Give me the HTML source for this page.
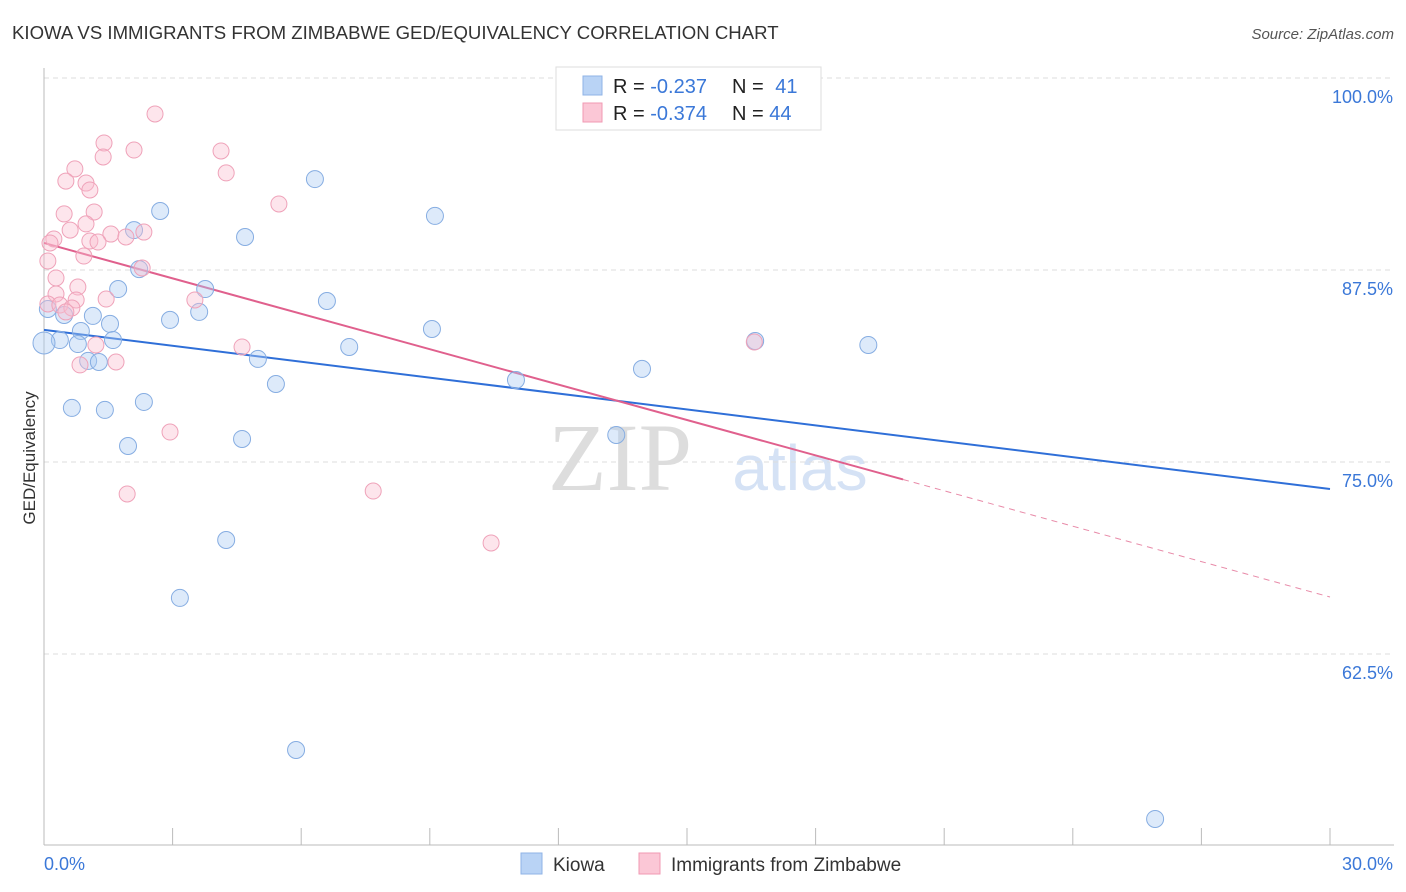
<!DOCTYPE html>
<html><head><meta charset="utf-8"><style>
body{margin:0;background:#fff;font-family:"Liberation Sans",sans-serif;}
svg{display:block}
</style></head><body>
<svg id="chart" width="1406" height="892" xmlns="http://www.w3.org/2000/svg">
<text x="12" y="39" font-size="18.6" fill="#333">KIOWA VS IMMIGRANTS FROM ZIMBABWE GED/EQUIVALENCY CORRELATION CHART</text>
<text x="1394" y="39" font-size="15" fill="#555" font-style="italic" text-anchor="end">Source: ZipAtlas.com</text>
<text x="35" y="458" font-size="17" fill="#333" text-anchor="middle" transform="rotate(-90 35 458)">GED/Equivalency</text>
<text x="620" y="490" font-size="96" fill="#ddd" font-family="Liberation Serif" text-anchor="middle">ZIP</text>
<text x="800" y="490" font-size="64" fill="#d5e2f5" text-anchor="middle">atlas</text>
<g id="grid"></g><g id="axes"></g><g id="lines"></g><g id="pts"></g>
<g>
<rect x="556" y="67" width="265" height="63" fill="#fff" stroke="#ddd"/>
<rect x="583" y="76" width="19" height="19" fill="#b9d3f5" stroke="#8fb3e6"/>
<rect x="583" y="103" width="19" height="19" fill="#fbc7d6" stroke="#f09ab3"/>
<text x="613" y="93" font-size="20" fill="#222">R = <tspan fill="#3b78d8">-0.237</tspan></text>
<text x="732" y="93" font-size="20" fill="#222">N = <tspan fill="#3b78d8" dx="6">41</tspan></text>
<text x="613" y="120" font-size="20" fill="#222">R = <tspan fill="#3b78d8">-0.374</tspan></text>
<text x="732" y="120" font-size="20" fill="#222">N = <tspan fill="#3b78d8">44</tspan></text>
</g>
<g>
<rect x="521" y="853" width="21" height="21" fill="#b9d3f5" stroke="#8fb3e6"/>
<text x="553" y="871" font-size="19" fill="#333">Kiowa</text>
<rect x="639" y="853" width="21" height="21" fill="#fbc7d6" stroke="#f09ab3"/>
<text x="671" y="871" font-size="19" fill="#333">Immigrants from Zimbabwe</text>
</g>
</svg>
<script>
const kiowaX=[16.17,6.32,2.71,9.12,4.69,2.10,2.22,1.73,3.76,6.60,3.62,2.94,0.09,0.47,1.14,1.54,0.86,9.05,0.37,0.79,1.61,0,7.12,4.99,1.03,1.28,16.59,19.23,13.95,11.01,5.41,0.65,1.42,2.33,4.62,1.96,13.35,4.25,3.17,5.88,25.92];
const kiowaY=[99.87,93.42,91.34,91.02,89.65,90.10,87.56,86.26,86.26,85.48,84.77,84.25,84.96,84.57,84.51,83.99,83.53,83.66,82.94,82.68,82.94,82.75,82.49,81.71,81.58,81.51,82.88,82.62,81.06,80.34,80.08,78.52,78.39,78.91,76.50,76.04,76.76,69.92,66.15,56.25,51.76];
const zimX=[2.59,1.40,1.38,2.10,4.13,0.72,4.25,0.51,0.98,1.07,5.48,0.47,1.17,0.98,0.61,0.23,1.56,2.33,1.91,1.07,1.26,0.14,0.93,0.09,2.29,0.28,0.79,0.28,3.52,1.45,0.75,0.09,0.37,0.65,0.51,4.62,1.21,16.57,0.84,1.68,2.94,1.94,7.68,10.43];
const zimY=[97.66,95.77,94.86,95.31,95.25,94.08,93.82,93.29,93.16,92.71,91.80,91.15,91.28,90.50,90.10,89.52,89.84,89.97,89.65,89.39,89.32,89.26,88.41,88.09,87.63,86.98,86.39,85.94,85.55,85.61,85.55,85.29,85.22,85.03,84.77,82.49,82.62,82.81,81.32,81.51,76.95,72.92,73.11,69.73];
const yTicks=[100,87.5,75,62.5];
const yTickLabels=["100.0%","87.5%","75.0%","62.5%"];
const xTicks=[0,3,6,9,12,15,18,21,24,27,30];
const kiowaTrend=[83.6,73.24];
const zimTrend=[89.26,66.21];
const zimSolidEnd=20.04;

const NS="http://www.w3.org/2000/svg";
const sx=v=>44+v/30*1286;
const sy=v=>78+(100-v)*15.36;
function mk(tag,attrs,parent){const e=document.createElementNS(NS,tag);for(const k in attrs)e.setAttribute(k,attrs[k]);document.getElementById(parent).appendChild(e);return e;}
yTicks.forEach((t,i)=>{
  const g=mk('line',{x1:44,x2:1394,y1:sy(t),y2:sy(t),stroke:'#ddd','stroke-dasharray':'5,4'},'grid');
  
  
  const l=mk('text',{x:1393,y:sy(t)+25,'font-size':18,fill:'#3b78d8','text-anchor':'end'},'axes');
  l.textContent=yTickLabels[i];
  
  
});
const ax=mk('line',{x1:44,x2:44,y1:68,y2:845,stroke:'#bbb'},'axes');


const bx=mk('line',{x1:44,x2:1394,y1:845,y2:845,stroke:'#bbb'},'axes');


xTicks.forEach(t=>{
  const tk=mk('line',{x1:sx(t),x2:sx(t),y1:828,y2:845,stroke:'#bbb'},'axes');
  
  
});
const xl0=mk('text',{x:44,y:870,'font-size':18,fill:'#3b78d8'},'axes');xl0.textContent='0.0%';


const xl1=mk('text',{x:1393,y:870,'font-size':18,fill:'#3b78d8','text-anchor':'end'},'axes');xl1.textContent='30.0%';



kiowaX.forEach((x,i)=>{
  const c=mk('circle',{cx:sx(x),cy:sy(kiowaY[i]),r:i==21?11:8.5,fill:'rgba(170,202,242,0.4)',stroke:'#86ade2','stroke-width':1},'pts');
  
  
});
zimX.forEach((x,i)=>{
  const c=mk('circle',{cx:sx(x),cy:sy(zimY[i]),r:8,fill:'rgba(250,190,208,0.4)',stroke:'#efa2b9','stroke-width':1},'pts');
  
  
});
const kl=mk('line',{x1:sx(0),y1:sy(kiowaTrend[0]),x2:sx(30),y2:sy(kiowaTrend[1]),stroke:'#2f6fd8','stroke-width':2},'lines');


const zAt=x=>zimTrend[0]+(zimTrend[1]-zimTrend[0])*x/30;
const zl=mk('line',{x1:sx(0),y1:sy(zimTrend[0]),x2:sx(zimSolidEnd),y2:sy(zAt(zimSolidEnd)),stroke:'#e0608d','stroke-width':2},'lines');


const zd=mk('line',{x1:sx(zimSolidEnd),y1:sy(zAt(zimSolidEnd)),x2:sx(30),y2:sy(zimTrend[1]),stroke:'#e88aa8','stroke-width':1,'stroke-dasharray':'6,5'},'lines');


</script>
</body></html>
